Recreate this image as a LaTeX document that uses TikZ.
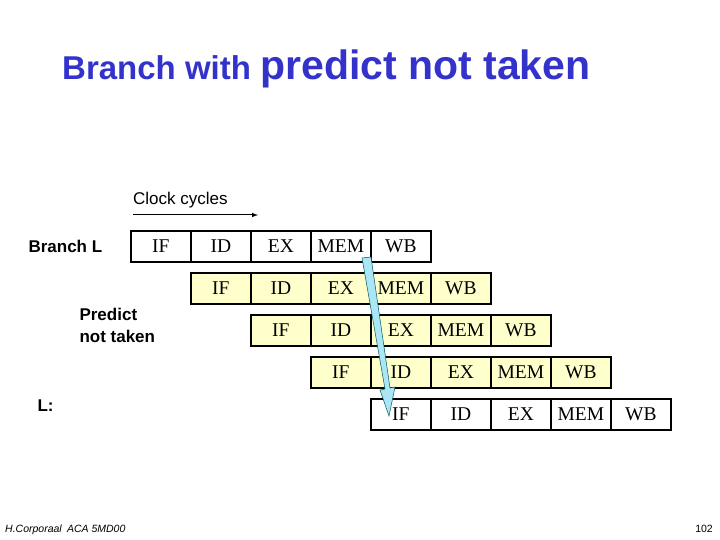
\documentclass[tikz,border=0pt]{standalone}
\usepackage{fontspec}
\setmainfont{Liberation Serif}
\setsansfont{Liberation Sans}
\begin{document}
\begin{tikzpicture}[x=1pt,y=-1pt,
  cell/.style={draw,line width=1.8pt,minimum width=60pt,minimum height=31pt,inner sep=0pt,anchor=north west,font=\fontsize{19.5}{20}\selectfont},
  lab/.style={font=\sffamily\bfseries\fontsize{17}{22}\selectfont,anchor=west,align=left}]
\useasboundingbox (0,0) rectangle (720,540);
\definecolor{ttl}{RGB}{51,51,204}
\definecolor{yel}{RGB}{255,255,204}
\definecolor{arr}{RGB}{170,230,245}
\node[anchor=base west,text=ttl,font=\sffamily\bfseries,inner sep=0pt] (title) at (62,80)
  {\fontsize{33}{36}\selectfont Branch with \fontsize{41}{44}\selectfont predict not taken};
\node[anchor=base west,font=\sffamily\fontsize{17}{19}\selectfont,inner sep=0pt] (clk) at (133,205) {Clock cycles};
\coordinate (c1) at (133,215); \coordinate (c2) at (258,215);
\draw[-latex,line width=1pt] (c1) -- (c2);
\node[lab] (br) at (25,246) {Branch L};
\node[lab] (pnt) at (76,325) {Predict\\not taken};
\node[lab] (L) at (34,406) {L:};
\foreach \r/\fill in {0/white,1/yel,2/yel,3/yel,4/white}{
  \foreach \s [count=\c from 0] in {IF,ID,EX,MEM,WB}{
    \node[cell,fill=\fill] (r\r c\c) at ({130+60*(\r+\c)},{230+42*\r}) {\s};
  }}
\fill[arr,draw=teal!70!black,line width=0.5pt] (362,258) -- (371,257) -- (390,388) -- (395,387) -- (389,416) -- (380,390) -- (385,389) -- cycle;
\node[anchor=base west,font=\sffamily\itshape\fontsize{10.5}{12}\selectfont,inner sep=0pt] (ft) at (5,532) {H.Corporaal\enspace ACA 5MD00};
\node[anchor=base east,font=\sffamily\fontsize{10.5}{12}\selectfont,inner sep=0pt] (pg) at (713,532) {102};
\end{tikzpicture}
\end{document}
